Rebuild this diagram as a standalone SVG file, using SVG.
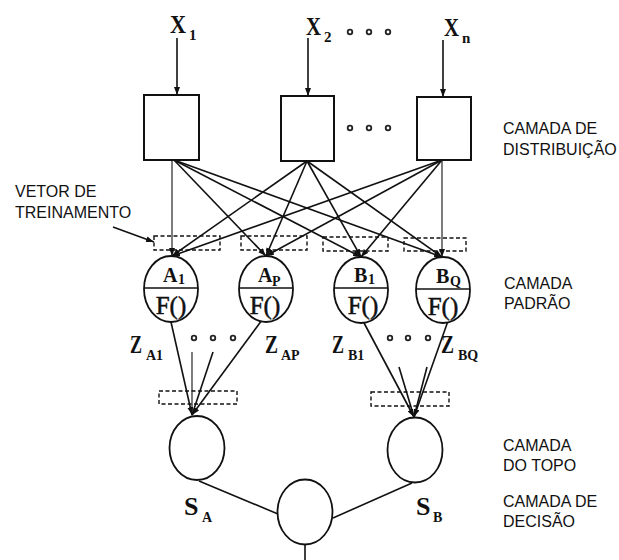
<svg xmlns="http://www.w3.org/2000/svg" width="619" height="560" viewBox="0 0 619 560">
<defs>
<style>
.sans{font-family:"Liberation Sans",Arial,sans-serif;font-size:16px;fill:#111}
.m{font-family:"Liberation Serif","Times New Roman",serif;font-weight:bold;fill:#111}
.f{font-family:"Liberation Serif","Times New Roman",serif;font-size:25px;fill:#111;stroke:#111;stroke-width:0.5}
.box{fill:#fff;stroke:#111;stroke-width:2}
.nd{fill:#fff;stroke:#111;stroke-width:1.8}
.ln{stroke:#111;stroke-width:1.6;fill:none}
.thin{stroke:#111;stroke-width:1.1;fill:none}
.dash{fill:none;stroke:#111;stroke-width:1.4;stroke-dasharray:4,2.5}
.dot{fill:none;stroke:#222;stroke-width:1.8}
</style>
<marker id="ah" markerUnits="userSpaceOnUse" markerWidth="8" markerHeight="6" refX="8" refY="3" orient="auto">
<path d="M0,0 L8,3 L0,6 z" fill="#111"/>
</marker>
</defs>
<rect width="619" height="560" fill="#fff"/>

<g id="connectors">
<line class="ln" x1="177" y1="38" x2="177" y2="95" marker-end="url(#ah)"/>
<line class="ln" x1="308" y1="38" x2="308" y2="96" marker-end="url(#ah)"/>
<line class="ln" x1="443" y1="40" x2="443" y2="97" marker-end="url(#ah)"/>

<line class="thin" x1="172" y1="160" x2="172" y2="256" marker-end="url(#ah)"/>
<line class="ln" x1="174" y1="160" x2="266" y2="256" marker-end="url(#ah)"/>
<line class="ln" x1="174" y1="160" x2="361" y2="257" marker-end="url(#ah)"/>
<line class="ln" x1="174" y1="160" x2="442" y2="257" marker-end="url(#ah)"/>
<line class="ln" x1="307" y1="161" x2="172" y2="256" marker-end="url(#ah)"/>
<line class="ln" x1="307" y1="161" x2="266" y2="256" marker-end="url(#ah)"/>
<line class="ln" x1="307" y1="161" x2="361" y2="257" marker-end="url(#ah)"/>
<line class="ln" x1="307" y1="161" x2="442" y2="257" marker-end="url(#ah)"/>
<line class="ln" x1="442" y1="160" x2="172" y2="256" marker-end="url(#ah)"/>
<line class="ln" x1="442" y1="160" x2="266" y2="256" marker-end="url(#ah)"/>
<line class="ln" x1="442" y1="160" x2="361" y2="257" marker-end="url(#ah)"/>
<line class="thin" x1="442" y1="160" x2="442" y2="257" marker-end="url(#ah)"/>

<line class="ln" x1="113" y1="227" x2="154" y2="242" marker-end="url(#ah)"/>

<line class="ln" x1="171" y1="322" x2="192" y2="415" marker-end="url(#ah)"/>
<line class="ln" x1="262" y1="320" x2="192" y2="415" marker-end="url(#ah)"/>
<line class="thin" x1="192" y1="352" x2="192" y2="415"/>
<line class="ln" x1="213" y1="352" x2="192" y2="415"/>

<line class="ln" x1="363" y1="321" x2="414" y2="417" marker-end="url(#ah)"/>
<line class="ln" x1="448" y1="321" x2="414" y2="417" marker-end="url(#ah)"/>
<line class="ln" x1="399" y1="367" x2="414" y2="417"/>
<line class="ln" x1="427" y1="367" x2="414" y2="417"/>

<line class="ln" x1="199" y1="481" x2="278" y2="514"/>
<line class="ln" x1="412" y1="483" x2="333" y2="518"/>
<line class="ln" x1="305" y1="545" x2="305" y2="560"/>
</g>

<g id="labels-top">
<text class="m" x="170" y="33" font-size="26" textLength="16" lengthAdjust="spacingAndGlyphs">X</text>
<text class="m" x="189" y="40" font-size="15">1</text>
<text class="m" x="306" y="35" font-size="26" textLength="15" lengthAdjust="spacingAndGlyphs">X</text>
<text class="m" x="324" y="42" font-size="15">2</text>
<text class="m" x="444" y="36" font-size="26" textLength="15" lengthAdjust="spacingAndGlyphs">X</text>
<text class="m" x="462" y="43" font-size="15">n</text>
<circle class="dot" cx="350" cy="32" r="2.3"/><circle class="dot" cx="369" cy="32" r="2.3"/><circle class="dot" cx="388" cy="32" r="2.3"/>
</g>

<g id="box1"><rect class="box" x="144" y="95" width="55" height="65"/></g>
<g id="box2"><rect class="box" x="281" y="96" width="53" height="65"/></g>
<g id="box3"><rect class="box" x="417" y="97" width="54" height="63"/></g>
<g id="dots-boxes">
<circle class="dot" cx="350" cy="128" r="2.3"/><circle class="dot" cx="369" cy="128" r="2.3"/><circle class="dot" cx="388" cy="128" r="2.3"/>
</g>

<g id="training-vectors">
<rect class="dash" x="154" y="236" width="66" height="14"/>
<rect class="dash" x="241" y="236" width="66" height="14"/>
<rect class="dash" x="323" y="237" width="65" height="14"/>
<rect class="dash" x="404" y="238" width="62" height="13"/>
<rect class="dash" x="159" y="391" width="78" height="13"/>
<rect class="dash" x="371" y="392" width="78" height="14"/>
</g>

<g id="nodeA1">
<ellipse class="nd" cx="171" cy="289" rx="27" ry="33"/>
<line class="ln" x1="144" y1="288" x2="198" y2="288"/>
<text class="m" x="163" y="282" font-size="20">A</text>
<text class="m" x="178" y="284" font-size="14">1</text>
<text class="f" x="171" y="314" text-anchor="middle">F()</text>
</g>
<g id="nodeAP">
<ellipse class="nd" cx="266" cy="289" rx="27" ry="33"/>
<line class="ln" x1="239" y1="288" x2="293" y2="288"/>
<text class="m" x="258" y="282" font-size="20">A</text>
<text class="m" x="272" y="286" font-size="14">P</text>
<text class="f" x="265" y="314" text-anchor="middle">F()</text>
</g>
<g id="nodeB1">
<ellipse class="nd" cx="361" cy="290" rx="27" ry="33"/>
<line class="ln" x1="334" y1="288" x2="388" y2="288"/>
<text class="m" x="354" y="282" font-size="20">B</text>
<text class="m" x="368" y="284" font-size="14">1</text>
<text class="f" x="363" y="314" text-anchor="middle">F()</text>
</g>
<g id="nodeBQ">
<ellipse class="nd" cx="443" cy="290" rx="27" ry="33"/>
<line class="ln" x1="416" y1="289" x2="470" y2="289"/>
<text class="m" x="436" y="283" font-size="20">B</text>
<text class="m" x="450" y="286" font-size="14">Q</text>
<text class="f" x="443" y="315" text-anchor="middle">F()</text>
</g>

<g id="z-labels">
<text class="m" x="130" y="353" font-size="26" textLength="12" lengthAdjust="spacingAndGlyphs">Z</text>
<text class="m" x="146" y="360" font-size="14">A1</text>
<text class="m" x="265" y="353" font-size="26" textLength="13" lengthAdjust="spacingAndGlyphs">Z</text>
<text class="m" x="281" y="360" font-size="14">AP</text>
<text class="m" x="332" y="353" font-size="26" textLength="12" lengthAdjust="spacingAndGlyphs">Z</text>
<text class="m" x="348" y="360" font-size="14">B1</text>
<text class="m" x="441" y="353" font-size="26" textLength="13" lengthAdjust="spacingAndGlyphs">Z</text>
<text class="m" x="458" y="360" font-size="14">BQ</text>
<circle class="dot" cx="194" cy="338" r="2.3"/><circle class="dot" cx="213" cy="338" r="2.3"/><circle class="dot" cx="233" cy="338" r="2.3"/>
<circle class="dot" cx="390" cy="338" r="2.3"/><circle class="dot" cx="408" cy="338" r="2.3"/><circle class="dot" cx="428" cy="338" r="2.3"/>
</g>

<g id="nodeSA"><ellipse class="nd" cx="197" cy="448" rx="27.5" ry="32"/></g>
<g id="nodeSB"><ellipse class="nd" cx="415" cy="450" rx="27.5" ry="32.5"/></g>
<g id="nodeDecision"><ellipse class="nd" cx="305" cy="512" rx="27.5" ry="32.5"/></g>

<g id="s-labels">
<text class="m" x="184" y="515" font-size="26">S</text>
<text class="m" x="202" y="522" font-size="14">A</text>
<text class="m" x="416" y="515" font-size="26">S</text>
<text class="m" x="433" y="522" font-size="14">B</text>
</g>

<g id="side-labels">
<text class="sans" x="15" y="197">VETOR DE</text>
<text class="sans" x="15" y="218">TREINAMENTO</text>
<text class="sans" x="503" y="134">CAMADA DE</text>
<text class="sans" x="503" y="155">DISTRIBUIÇÃO</text>
<text class="sans" x="504" y="289">CAMADA</text>
<text class="sans" x="504" y="309">PADRÃO</text>
<text class="sans" x="503" y="451">CAMADA</text>
<text class="sans" x="503" y="471">DO TOPO</text>
<text class="sans" x="503" y="507">CAMADA DE</text>
<text class="sans" x="503" y="527">DECISÃO</text>
</g>
</svg>
